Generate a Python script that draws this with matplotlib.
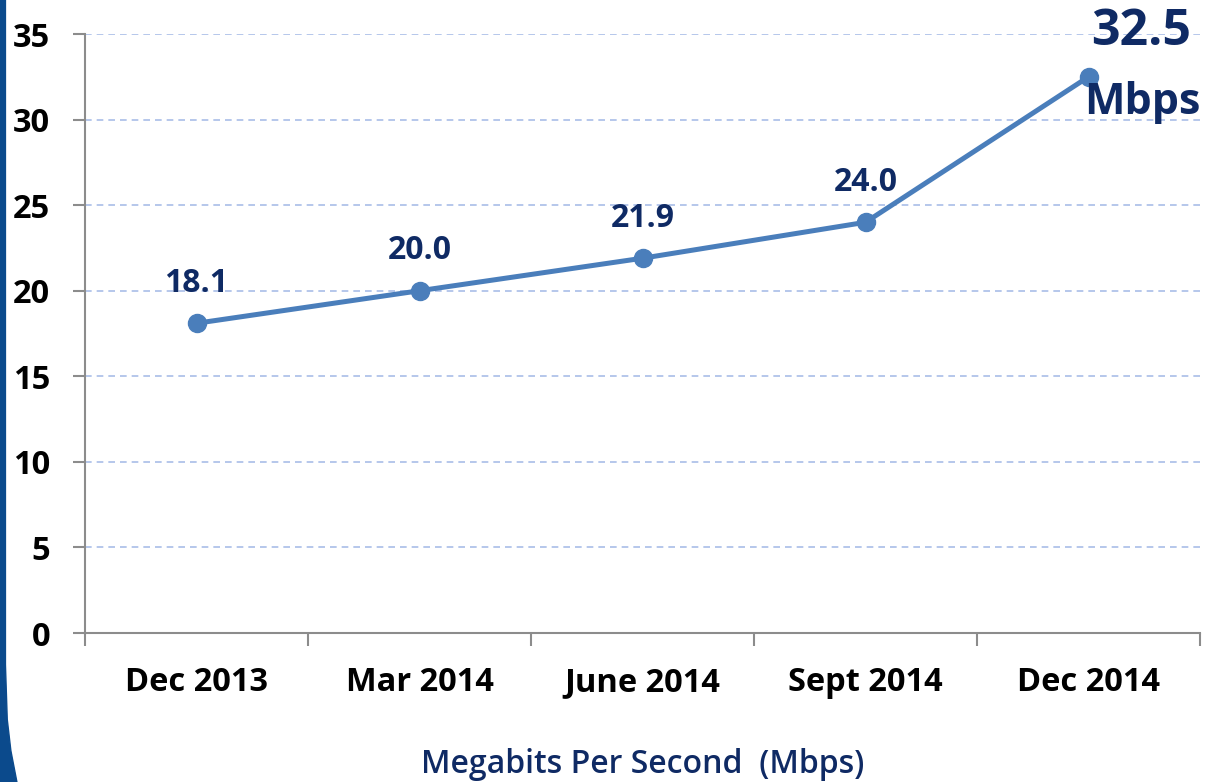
import matplotlib.pyplot as plt
from matplotlib.patches import Polygon

# data
periods = ['Dec 2013', 'Mar 2014', 'June 2014', 'Sept 2014', 'Dec 2014']
speed = [18.1, 20.0, 21.9, 24.0, 32.5]
y_ticks = [0, 5, 10, 15, 20, 25, 30, 35]

navy = '#0f2a64'
line_col = '#4a7ebb'

plt.rcParams['font.family'] = ['Open Sans', 'DejaVu Sans']

fig = plt.figure(figsize=(12.08, 7.82), dpi=100)
ax = fig.add_axes([0.0704, 0.1905, 0.9230, 0.7660])

# blue slide border on the left
border = Polygon([(0, 1), (0.0045, 1), (0.0045, 0.15), (0.006, 0.08), (0.009, 0.04),
                  (0.014, 0.0), (0, 0)], closed=True, transform=fig.transFigure,
                 color='#0b4a8c', zorder=0)
fig.patches.append(border)

x = list(range(len(periods)))
ax.plot(x, speed, color=line_col, lw=3.6, marker='o', markersize=13,
        markerfacecolor=line_col, markeredgecolor=line_col, zorder=3)

for xi, v in zip(x[:-1], speed[:-1]):
    ax.annotate(f'{v:.1f}', (xi, v), xytext=(0, 17), textcoords='offset points',
                ha='center', va='bottom', fontsize=23, fontweight='bold', color=navy)

# last point gets the big label
ax.annotate(f'{speed[-1]:.1f}', (x[-1], speed[-1]), xytext=(38, 14),
            textcoords='offset points', ha='center', va='bottom',
            fontsize=36, fontweight='bold', color=navy)
ax.annotate('Mbps', (x[-1], speed[-1]), xytext=(39, -3),
            textcoords='offset points', ha='center', va='top',
            fontsize=31, fontweight='bold', color=navy)

ax.set_xlim(-0.5, 4.5)
ax.set_ylim(0, 35)
ax.set_yticks(y_ticks)
ax.set_yticklabels([str(t) for t in y_ticks], fontsize=23.5, fontweight='bold')
ax.set_xticks(x)
ax.set_xticklabels(periods, fontsize=23.5, fontweight='bold')
ax.set_xticks([i - 0.5 for i in range(len(periods) + 1)], minor=True)
ax.tick_params(axis='x', which='major', length=0, pad=24)
ax.tick_params(axis='x', which='minor', length=9, color='#8c8c8c', width=1.5)
ax.tick_params(axis='y', length=9, color='#8c8c8c', width=1.5, pad=16)

ax.grid(axis='y', color='#a9bee8', linestyle=(0, (4, 3)), lw=1.2)
ax.set_axisbelow(True)
for s in ['top', 'right']:
    ax.spines[s].set_visible(False)
for s in ['left', 'bottom']:
    ax.spines[s].set_color('#8c8c8c')
    ax.spines[s].set_linewidth(1.5)

ax.set_xlabel('Megabits Per Second  (Mbps)', fontsize=23, fontweight='semibold',
              color=navy, labelpad=35)

fig.savefig('out.png', dpi=100)
